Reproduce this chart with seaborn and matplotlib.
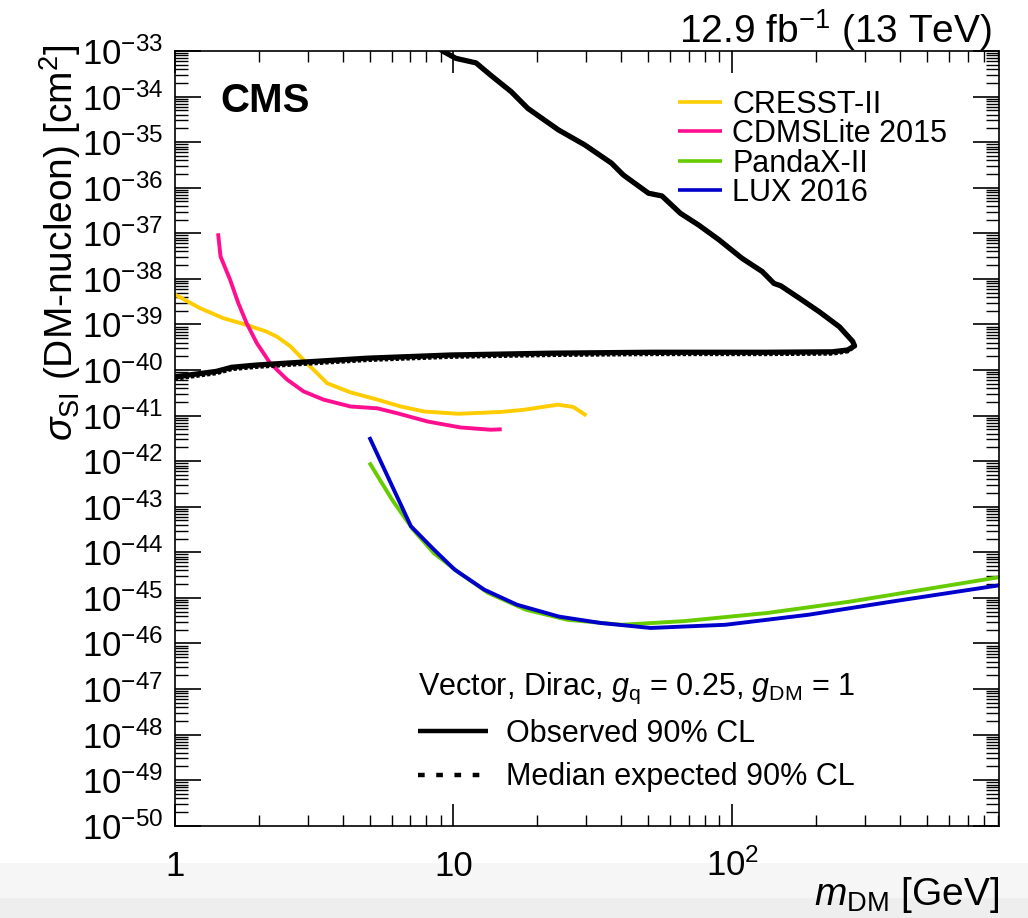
import numpy as np
import pandas as pd
import matplotlib
matplotlib.use("Agg")
import matplotlib.pyplot as plt
import seaborn as sns
from matplotlib.ticker import (LogLocator, FixedLocator, FixedFormatter, NullFormatter,
                               LogFormatterSciNotation)
from matplotlib.lines import Line2D
from matplotlib.patches import Rectangle

# ---------------- data (m_DM in GeV, log10 of sigma in cm^2) ----------------
obs_mass = [1.0, 1.41, 1.6, 1.97, 2.82, 4.91, 9.8, 22.5, 51.5, 131.5, 229.0, 259.6, 275.0,
            270.6, 242.5, 205.3, 173.9, 149.3, 141.3, 128.3, 108.6, 89.6, 75.9, 65.2,
            56.0, 50.1, 40.7, 36.9, 29.6, 23.8, 18.5, 16.1, 13.6, 12.05, 10.2, 9.27, 8.9]
obs_log_xs = [-40.15, -40.03, -39.94, -39.89, -39.83, -39.74, -39.67, -39.63, -39.61, -39.61,
              -39.60, -39.56, -39.47, -39.37, -39.05, -38.72, -38.42, -38.15, -38.10, -37.84,
              -37.55, -37.14, -36.82, -36.56, -36.18, -36.12, -35.72, -35.46, -35.06, -34.73,
              -34.26, -33.89, -33.53, -33.26, -33.16, -33.02, -32.95]

exp_mass = [1.0, 1.41, 1.6, 1.97, 2.82, 4.91, 9.8, 22.5, 51.5, 131.5, 229.0, 259.6, 275.0,
            270.6, 242.5, 205.3, 173.9, 149.3, 141.3, 128.3, 108.6, 89.6, 75.9, 65.2,
            56.0, 50.1, 40.7, 36.9, 29.6, 23.8, 18.5, 16.1, 13.6, 12.05, 10.2, 9.27, 8.9]
exp_log_xs = [-40.19, -40.07, -39.98, -39.93, -39.87, -39.78, -39.71, -39.67, -39.65, -39.65,
              -39.64, -39.59, -39.48, -39.37, -39.05, -38.72, -38.42, -38.15, -38.10, -37.84,
              -37.55, -37.14, -36.82, -36.56, -36.18, -36.12, -35.72, -35.46, -35.06, -34.73,
              -34.26, -33.89, -33.53, -33.26, -33.16, -33.02, -32.95]

cresst_mass = [1.0, 1.23, 1.49, 1.81, 2.14, 2.33, 2.60, 2.90, 3.24, 3.52, 4.27, 5.34, 6.47,
               7.85, 10.4, 14.8, 18.0, 23.7, 26.9, 30.0]
cresst_log_xs = [-38.34, -38.64, -38.86, -39.01, -39.16, -39.27, -39.48, -39.78, -40.07,
                 -40.29, -40.49, -40.65, -40.80, -40.91, -40.96, -40.92, -40.87, -40.76,
                 -40.81, -41.00]

cdms_mass = [1.43, 1.46, 1.58, 1.69, 1.81, 1.97, 2.20, 2.53, 2.90, 3.42, 4.27, 5.33, 6.30,
             8.08, 10.6, 13.6, 14.9]
cdms_log_xs = [-37.00, -37.51, -38.02, -38.53, -38.97, -39.41, -39.85, -40.21, -40.47, -40.65,
               -40.80, -40.84, -40.95, -41.13, -41.26, -41.31, -41.30]

pandax_mass = [4.99, 6.03, 7.16, 8.51, 10.5, 13.3, 18.2, 25.6, 40.1, 67.2, 134.0, 266.0, 530.0, 940.0]
pandax_log_xs = [-42.03, -42.85, -43.50, -44.02, -44.45, -44.89, -45.26, -45.48, -45.59,
                 -45.51, -45.33, -45.08, -44.78, -44.53]

lux_mass = [4.99, 6.03, 7.04, 8.51, 10.1, 12.9, 16.9, 23.9, 33.7, 51.0, 94.6, 188.0, 375.0, 940.0]
lux_log_xs = [-41.47, -42.55, -43.43, -43.94, -44.38, -44.82, -45.15, -45.41, -45.55, -45.66,
              -45.59, -45.37, -45.08, -44.71]

x_tick_values = [1, 10, 100]
x_tick_labels = ["1", "10", r"$\mathdefault{10^{2}}$"]
y_tick_exponents = list(range(-50, -32))

exp_labels = ["CRESST-II", "CDMSLite 2015", "PandaX-II", "LUX 2016"]
exp_colors = ["#ffcc00", "#ff0f8f", "#66cc00", "#0000cc"]

# ---------------- style ----------------
sns.set_theme(style="ticks")
plt.rcParams.update({
    "font.family": ["Liberation Sans", "DejaVu Sans"],
    "mathtext.fontset": "custom",
    "mathtext.rm": "Liberation Sans",
    "mathtext.it": "Liberation Sans:italic",
    "mathtext.bf": "Liberation Sans:bold",
    "mathtext.sf": "Liberation Sans",
    "text.color": "black",
    "axes.labelcolor": "black",
    "xtick.color": "black",
    "ytick.color": "black",
    "axes.linewidth": 1.2,
    "axes.edgecolor": "black",
    "axes.facecolor": "white",
    "figure.facecolor": "white",
    "lines.solid_capstyle": "butt",
    "lines.dash_capstyle": "butt",
})

fig = plt.figure(figsize=(10.28, 9.18), dpi=100)
fig.patches.append(Rectangle((0, 0), 1, (918 - 863) / 918, transform=fig.transFigure,
                             facecolor="#f6f6f6", edgecolor="none", zorder=-10))
fig.patches.append(Rectangle((0, 0), 1, (918 - 898) / 918, transform=fig.transFigure,
                             facecolor="#eeeeee", edgecolor="none", zorder=-9))
ax = fig.add_axes([0.170, 0.1005, 0.8018, 0.8439])

def frame(mass, logxs):
    return pd.DataFrame({"m": np.asarray(mass, float), "xs": 10.0 ** np.asarray(logxs, float)})

series = [(cresst_mass, cresst_log_xs), (cdms_mass, cdms_log_xs),
          (pandax_mass, pandax_log_xs), (lux_mass, lux_log_xs)]
exp_handles = []
for (m, l), lab, col in zip(series, exp_labels, exp_colors):
    sns.lineplot(data=frame(m, l), x="m", y="xs", sort=False, estimator=None, ax=ax,
                 color=col, lw=2.8, label=lab, legend=False)
    exp_handles.append(ax.lines[-1])

sns.lineplot(data=frame(exp_mass, exp_log_xs), x="m", y="xs", sort=False, estimator=None, ax=ax,
             color="black", lw=3.0, linestyle=(0, (0.8, 0.5)), legend=False)
sns.lineplot(data=frame(obs_mass, obs_log_xs), x="m", y="xs", sort=False, estimator=None, ax=ax,
             color="black", lw=3.8, legend=False)

ax.set_xscale("log")
ax.set_yscale("log")
ax.set_xlim(1, 907)
ax.set_ylim(1e-50, 1e-33)

ax.xaxis.set_major_locator(FixedLocator(x_tick_values))
ax.xaxis.set_major_formatter(FixedFormatter(x_tick_labels))
ax.xaxis.set_minor_locator(LogLocator(base=10, subs=np.arange(2, 10), numticks=1000))
ax.xaxis.set_minor_formatter(NullFormatter())
ax.yaxis.set_major_locator(FixedLocator([10.0 ** e for e in y_tick_exponents]))
ax.yaxis.set_major_formatter(LogFormatterSciNotation())
ax.yaxis.set_minor_locator(LogLocator(base=10, subs=np.arange(2, 10), numticks=1000))
ax.yaxis.set_minor_formatter(NullFormatter())

ax.tick_params(axis="y", which="major", direction="in", length=19, width=1.2,
               left=True, right=True, labelsize=25, pad=8.4, colors="black")
ax.tick_params(axis="y", which="minor", direction="in", length=9.5, width=1.0,
               left=True, right=True)
ax.tick_params(axis="x", which="major", direction="in", length=15.5, width=1.2,
               top=True, bottom=True, labelsize=25, pad=36, colors="black")
ax.tick_params(axis="x", which="minor", direction="in", length=7.7, width=1.0,
               top=True, bottom=True)

ax.set_xlabel(r"$m_{\mathrm{DM}}$ [GeV]", fontsize=28, loc="right")
ax.xaxis.set_label_coords(1.0, -0.1024)
ax.xaxis.label.set_verticalalignment("baseline")
ax.set_ylabel(r"$\sigma_{\mathrm{SI}}$ (DM-nucleon) [cm$^{2}$]", fontsize=28, loc="top")
ax.yaxis.set_label_coords(-0.1234, 1.0078)
ax.yaxis.label.set_verticalalignment("baseline")

ax.text(0.055, 0.921, "CMS", transform=ax.transAxes, fontsize=29, fontweight="bold",
        ha="left", va="baseline")
ax.text(0.991, 1.0107, r"12.9 fb$^{-1}$ (13 TeV)", transform=ax.transAxes, fontsize=28,
        ha="right", va="baseline")

leg1 = ax.legend(handles=exp_handles, labels=exp_labels, loc="upper left",
                 bbox_to_anchor=(0.610, 0.950), frameon=False, fontsize=22,
                 handlelength=1.466, handletextpad=0.33, labelspacing=-0.02,
                 borderpad=0, borderaxespad=0)
for h in leg1.get_lines():
    h.set_linewidth(2.6)
ax.add_artist(leg1)

obs_proxy = Line2D([], [], color="black", lw=3.2)
exp_proxy = Line2D([], [], color="black", lw=3.2, linestyle=(0, (1.5, 2.6)))
leg2 = ax.legend(handles=[obs_proxy, exp_proxy],
                 labels=["Observed 90% CL", "Median expected 90% CL"],
                 title=r"Vector, Dirac, $g_{\mathrm{q}}$ = 0.25, $g_{\mathrm{DM}}$ = 1",
                 title_fontsize=22, fontsize=22, loc="upper left",
                 bbox_to_anchor=(0.2945, 0.200), frameon=False, alignment="left",
                 handlelength=2.31, handletextpad=0.59, labelspacing=0.43,
                 borderpad=0, borderaxespad=0)

fig.canvas.draw()
for t in ax.get_xticklabels():
    t.set_verticalalignment("baseline")

fig.savefig("out.png", dpi=100)
